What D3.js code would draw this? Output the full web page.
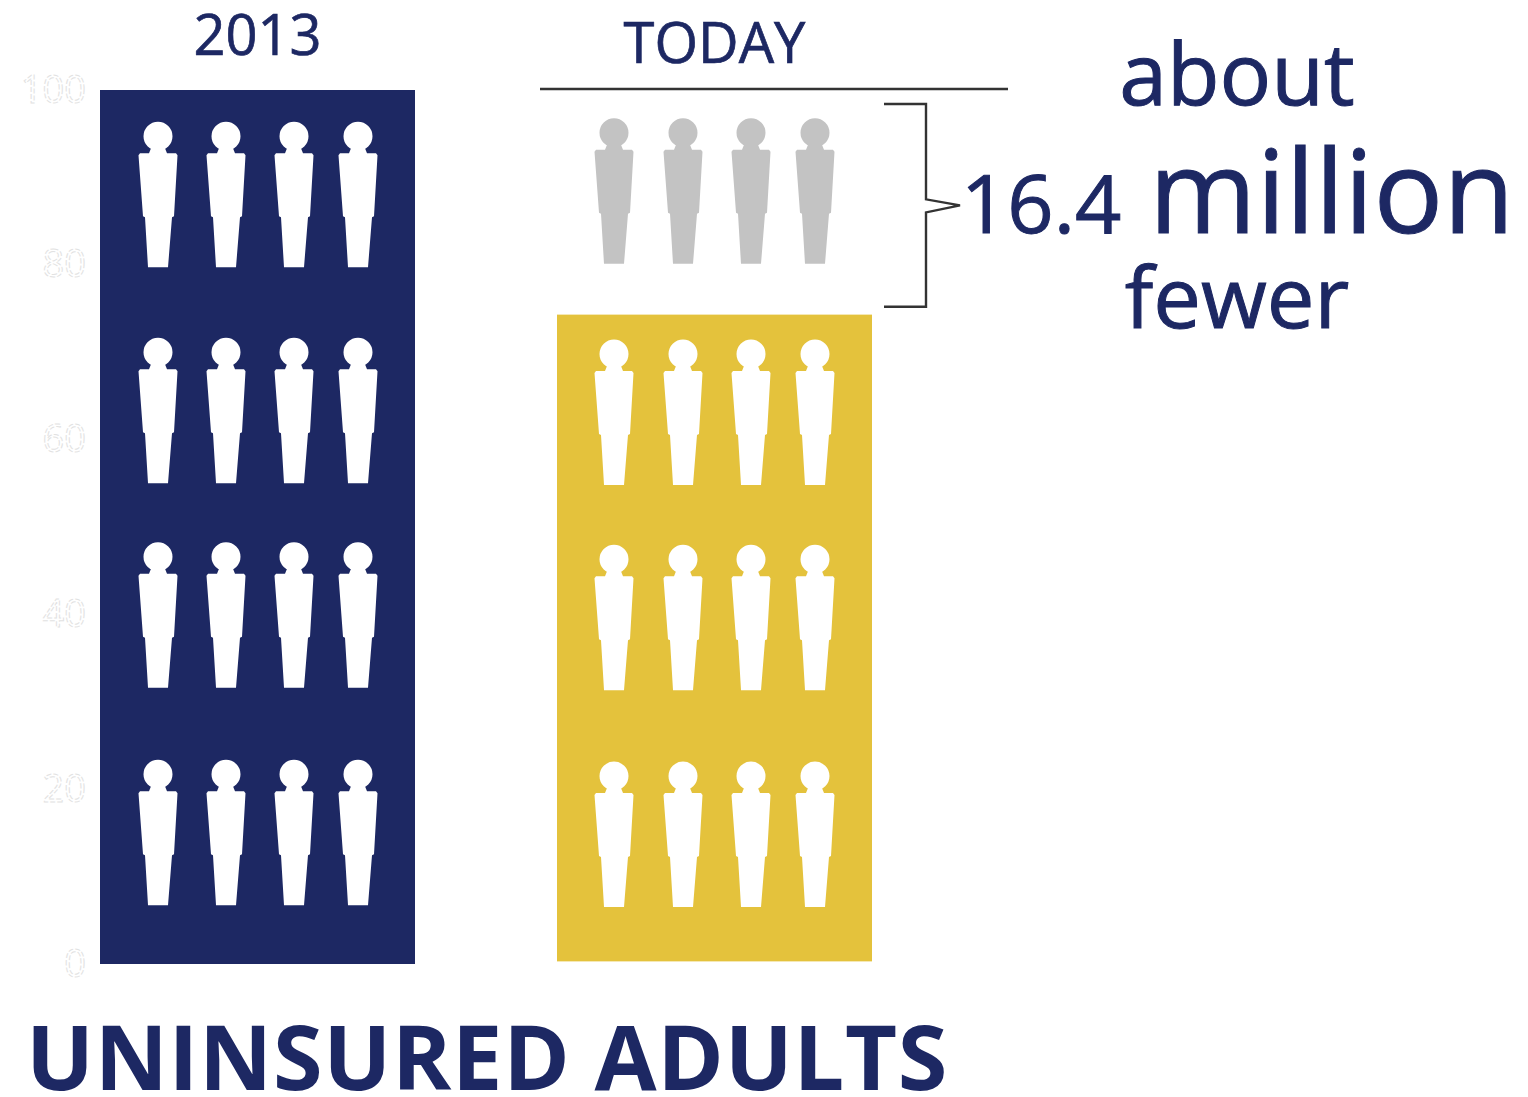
<!DOCTYPE html>
<html>
<head>
<meta charset="utf-8">
<title>Uninsured adults</title>
<script src="https://cdn.jsdelivr.net/npm/d3@7/dist/d3.min.js"></script>
<style>
  html, body { margin: 0; padding: 0; background: #fff; }
  svg { display: block; }
  text { font-family: "Open Sans", sans-serif; }
</style>
</head>
<body>
<svg id="chart" width="1528" height="1097"></svg>
<script>
// Chart values
const categories = ["2013", "TODAY"];
const barTops = [100, 74.3];
const barBases = [0, 0.3];
const tickValues = [0, 20, 40, 60, 80, 100];
const figuresPerRow = 4;
const rowLevels2013 = [94.7, 70, 46.6, 21.7];
const rowLevelsToday = [69.8, 46.3, 21.5];
const rowLevelDifference = [95.1];
const differenceRange = [98.4, 75.2];
const differenceLabel = ["about", "16.4", "million", "fewer"];
const chartTitle = "UNINSURED ADULTS";

const navy = "#1d2863";
const gold = "#e4c23c";
const grey = "#c3c3c3";

const svg = d3.select("#chart");
const y = d3.scaleLinear().domain([0, 100]).range([964, 90]);
const x = d3.scaleOrdinal().domain(categories).range([100, 557]);
const barWidth = 315;

// Left axis: very pale outlined numerals, no axis line
const axis = svg.append("g")
  .attr("transform", "translate(100,0)")
  .call(d3.axisLeft(y).tickValues(tickValues).tickSize(0).tickPadding(14));
axis.select(".domain").remove();
axis.selectAll("text")
  .style("font-size", "38px")
  .attr("fill", "none")
  .attr("stroke", "#e2e2e2")
  .attr("stroke-width", 1)
  .attr("stroke-dasharray", "5 2");

// Bars
svg.append("g").selectAll("rect")
  .data(categories)
  .join("rect")
  .attr("x", d => x(d))
  .attr("width", barWidth)
  .attr("y", (d, i) => y(barTops[i]))
  .attr("height", (d, i) => y(barBases[i]) - y(barTops[i]))
  .attr("fill", (d, i) => i === 0 ? navy : gold);

// Person glyph, drawn around the head centre
function personPath() {
  const p = d3.path();
  p.moveTo(14.5, 0);
  p.arc(0, 0, 14.5, 0, Math.PI * 2);
  p.closePath();
  const body = [
    [-7, 12], [7, 12], [9, 17], [18, 17], [19.5, 19], [16, 80], [14, 81],
    [10, 131], [-10, 131], [-13, 81], [-15, 80], [-19.5, 19], [-18, 17], [-9, 17]
  ];
  body.forEach((pt, i) => i ? p.lineTo(pt[0], pt[1]) : p.moveTo(pt[0], pt[1]));
  p.closePath();
  return p.toString();
}
const glyph = personPath();

// Each group of figures: left edge of its bar, column offsets, row levels, fill
const figureGroups = [
  { category: "2013", offsets: [58, 126, 194, 258], rows: rowLevels2013, fill: "#fff" },
  { category: "TODAY", offsets: [57, 126, 194, 258], rows: rowLevelsToday, fill: "#fff" },
  { category: "TODAY", offsets: [57, 126, 194, 258], rows: rowLevelDifference, fill: grey }
];
figureGroups.forEach(group => {
  group.rows.forEach(level => {
    svg.append("g").selectAll("path")
      .data(d3.range(figuresPerRow))
      .join("path")
      .attr("d", glyph)
      .attr("fill", group.fill)
      .attr("transform", i => `translate(${x(group.category) + group.offsets[i]},${y(level)})`);
  });
});

// Column headings
svg.append("g").selectAll("text")
  .data(categories)
  .join("text")
  .attr("x", d => x(d) + barWidth / 2)
  .attr("y", (d, i) => i === 0 ? 55 : 63)
  .attr("text-anchor", "middle")
  .attr("font-size", 56)
  .attr("fill", navy)
  .attr("stroke", navy)
  .attr("stroke-width", 0.7)
  .text(d => d);

// Rule above the difference area
svg.append("line")
  .attr("x1", 540).attr("x2", 1008)
  .attr("y1", 89).attr("y2", 89)
  .attr("stroke", "#333").attr("stroke-width", 2.4);

// Bracket spanning the drop between the two bars
const bTop = y(differenceRange[0]);
const bBot = y(differenceRange[1]);
const bMid = (bTop + bBot) / 2;
svg.append("path")
  .attr("d", d3.line()([
    [884, bTop], [926, bTop], [926, bMid - 6], [960, bMid],
    [926, bMid + 7], [926, bBot], [884, bBot]
  ]))
  .attr("fill", "none")
  .attr("stroke", "#333")
  .attr("stroke-width", 2.4);

// Difference callout
const callout = svg.append("g").attr("fill", navy).attr("stroke", navy).attr("stroke-width", 1);
callout.append("text").attr("x", 1237).attr("y", 105).attr("text-anchor", "middle")
  .attr("font-size", 86).text(differenceLabel[0]);
callout.append("text").attr("x", 961).attr("y", 233)
  .attr("font-size", 81).text(differenceLabel[1]);
callout.append("text").attr("x", 1149).attr("y", 233)
  .attr("font-size", 116).text(differenceLabel[2]);
callout.append("text").attr("x", 1237).attr("y", 328).attr("text-anchor", "middle")
  .attr("font-size", 85).text(differenceLabel[3]);

// Title
svg.append("text")
  .attr("x", 26).attr("y", 1090)
  .attr("font-size", 90)
  .attr("font-weight", 700)
  .attr("letter-spacing", 0.7)
  .attr("fill", navy)
  .text(chartTitle);
</script>
</body>
</html>
